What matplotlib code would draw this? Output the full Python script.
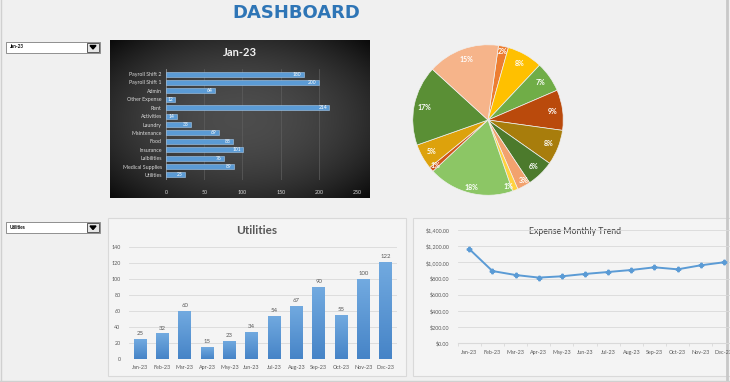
import numpy as np
import matplotlib
matplotlib.use('Agg')
import matplotlib.pyplot as plt
from matplotlib.patches import Rectangle, Polygon
from matplotlib.colors import LinearSegmentedColormap

# data
categories = ['Utilities', 'Medical Supplies', 'Lalbilities', 'Insurance', 'Food', 'Maintenance', 'Laundry',
              'Activities', 'Rent', 'Other Expense', 'Admin', 'Payroll Shift 1', 'Payroll Shift 2']
jan_values = [25, 89, 76, 101, 88, 69, 33, 14, 214, 12, 64, 200, 180]
months = ['Jan-23', 'Feb-23', 'Mar-23', 'Apr-23', 'May-23', 'Jun-23',
          'Jul-23', 'Aug-23', 'Sep-23', 'Oct-23', 'Nov-23', 'Dec-23']
utilities = [25, 32, 60, 15, 23, 34, 54, 67, 90, 55, 100, 122]
monthly_total = [1165, 893, 844, 812, 828, 857, 881, 906, 939, 914, 964, 1001]
trend_ticks = [0, 200, 400, 600, 800, 1000, 1200, 1400]
pie_colors = ['#ED7D31', '#FFC000', '#70AD47', '#BA4A0C', '#A87D0C', '#4C7A2C', '#F2A26E',
              '#FFD23F', '#8CC665', '#D0561A', '#DDA20C', '#5A8F35', '#F6B48A']

W, H = 730, 382
plt.rcParams['font.family'] = ['Lato', 'DejaVu Sans']


def rect(x0, y0, x1, y1):
    return [x0 / W, 1 - y1 / H, (x1 - x0) / W, (y1 - y0) / H]


fig = plt.figure(figsize=(W / 100, H / 100), dpi=100, facecolor='#F0F0F0')

# background layer in pixel coords
bg = fig.add_axes([0, 0, 1, 1])
bg.set_xlim(0, W)
bg.set_ylim(H, 0)
bg.axis('off')

bg.text(296, 13, 'DASHBOARD', ha='center', va='center', fontsize=13, fontweight='bold',
        color='#2E75B6', family='DejaVu Sans')

# dark panel with radial gradient
yy, xx = np.mgrid[-1:1:160j, -1:1:260j]
rr = np.sqrt(xx ** 2 + yy ** 2)
shade = 0.30 - 0.13 * np.clip(rr, 0, 1.4) ** 2
bg.imshow(np.dstack([shade] * 3), extent=[110, 370, 198, 40], aspect='auto', zorder=1)
bg.add_patch(Rectangle((108, 218), 298, 158, facecolor='#F4F4F4', edgecolor='#D9D9D9', lw=0.8, zorder=1))
bg.add_patch(Rectangle((413, 218), 330, 158, facecolor='#F4F4F4', edgecolor='#D9D9D9', lw=0.8, zorder=1))
bg.plot([727, 727], [0, H], color='#C8C8C8', lw=2, zorder=2)
bg.plot([0, W], [380.5, 380.5], color='#D0D0D0', lw=1, zorder=2)
bg.plot([0.5, 0.5], [0, H], color='#D0D0D0', lw=1, zorder=2)
bg.set_xlim(0, W)
bg.set_ylim(H, 0)


def dropdown(y0, label):
    bg.add_patch(Rectangle((6, y0), 94, 11, facecolor='white', edgecolor='#7F7F7F', lw=0.6, zorder=3))
    bg.add_patch(Rectangle((87, y0 + 1), 12, 9, facecolor='#E6E6E6', edgecolor='#404040', lw=0.6, zorder=3))
    bg.add_patch(Polygon([[90, y0 + 4], [96, y0 + 4], [93, y0 + 7.5]], closed=True, color='black', zorder=4))
    bg.text(10, y0 + 5.5, label, fontsize=3.3, fontweight='bold', va='center', color='black', zorder=4)


dropdown(41.5, 'Jan-23')
dropdown(222, 'Utilities')

# Jan-23 horizontal bar chart
bg.text(240, 53, 'Jan-23', ha='center', va='center', fontsize=8, fontweight='bold', color='#F2F2F2', zorder=3)
ax1 = fig.add_axes(rect(166, 69, 357, 180))
ax1.patch.set_alpha(0)
y = np.arange(len(categories))
bars = ax1.barh(y, jan_values, height=0.6, color='#5B9BD5', edgecolor='#A9CBEB', lw=0.4, zorder=3)
for b, v in zip(bars, jan_values):
    ax1.text(v - 3, b.get_y() + b.get_height() / 2, str(v), ha='right', va='center',
             fontsize=3.6, color='white', zorder=4)
ax1.set_xlim(0, 250)
ax1.set_ylim(-0.6, len(categories) - 0.4)
ax1.set_xticks(range(0, 251, 50))
ax1.set_yticks(y)
ax1.set_yticklabels(categories)
ax1.tick_params(axis='both', length=0, labelsize=3.8, colors='#D9D9D9', pad=3)
ax1.tick_params(axis='x', pad=7)
ax1.grid(axis='x', color='#5E5E5E', lw=0.5, zorder=0)
for s in ax1.spines.values():
    s.set_visible(False)
ax1.axvline(0, color='#8C8C8C', lw=0.6, zorder=2)

# pie
ax2 = fig.add_axes(rect(412, 44, 564, 196))
wedges, _, autotexts = ax2.pie(jan_values, colors=pie_colors, startangle=82, counterclock=False,
                               autopct='%1.0f%%', pctdistance=0.86,
                               wedgeprops=dict(edgecolor='#F0F0F0', linewidth=0.5),
                               textprops=dict(fontsize=5, color='white', fontweight='bold'))
total = sum(jan_values)
nudge = {'Activities': -4, 'Laundry': 2}
for w, t, v, c in zip(wedges, autotexts, jan_values, categories):
    ang = np.deg2rad((w.theta1 + w.theta2) / 2 + nudge.get(c, 0))
    d = 0.86
    if v / total < 0.04 or v / total > 0.18:
        d = 0.93
    t.set_position((d * np.cos(ang), d * np.sin(ang)))
ax2.set_xlim(-1.01, 1.01)
ax2.set_ylim(-1.01, 1.01)
ax2.set_aspect('equal')

# Utilities monthly bars
bg.text(257, 231, 'Utilities', ha='center', va='center', fontsize=8.5, fontweight='bold', color='#595959', zorder=3)
ax3 = fig.add_axes(rect(128.8, 247.3, 396.9, 359))
ax3.patch.set_alpha(0)
x = np.arange(len(months))
ub = ax3.bar(x, utilities, width=0.57, color='#5B9BD5', zorder=3)
cmap = LinearSegmentedColormap.from_list('blu', ['#4684C7', '#72AAE0'])
grad = np.linspace(0, 1, 100).reshape(-1, 1)
for b, v in zip(ub, utilities):
    im = ax3.imshow(grad, extent=[b.get_x(), b.get_x() + b.get_width(), 0, v], origin='lower',
                    aspect='auto', cmap=cmap, zorder=3.5)
    im.set_clip_path(b)
    ax3.text(b.get_x() + b.get_width() / 2, v + 3.5, str(v), ha='center', va='bottom',
             fontsize=4.3, color='#595959', zorder=4)
ax3.set_xlim(-0.5, len(months) - 0.5)
ax3.set_ylim(0, 140)
ax3.set_yticks(range(0, 141, 20))
ax3.set_xticks(x)
ax3.set_xticklabels(months)
ax3.tick_params(axis='both', length=0, labelsize=3.9, colors='#595959')
ax3.tick_params(axis='y', pad=6)
ax3.tick_params(axis='x', pad=4)
ax3.grid(axis='y', color='#D9D9D9', lw=0.6, zorder=0)
for s in ax3.spines.values():
    s.set_visible(False)

# expense trend line
bg.text(575, 231, 'Expense Monthly Trend', ha='center', va='center', fontsize=6.3, color='#404040', zorder=3)
ax4 = fig.add_axes(rect(457.7, 230, 735.5, 343.3))
ax4.patch.set_alpha(0)
ax4.plot(x, monthly_total, color='#5B9BD5', lw=1.4, marker='P', markersize=3.2, zorder=3)
ax4.set_xlim(-0.5, len(months) - 0.5)
ax4.set_ylim(0, 1400)
ax4.set_yticks(trend_ticks)
ax4.set_yticklabels(['${:,.2f}'.format(t) for t in trend_ticks])
ax4.set_xticks(x)
ax4.set_xticklabels(months)
ax4.set_xticks(np.arange(-0.5, len(months), 1), minor=True)
ax4.tick_params(axis='both', which='major', length=0, labelsize=3.9, colors='#595959')
ax4.tick_params(axis='x', which='minor', length=2.5, color='#D9D9D9')
ax4.tick_params(axis='y', pad=6)
ax4.tick_params(axis='x', pad=5)
ax4.grid(axis='y', color='#D9D9D9', lw=0.6, zorder=0)
for s in ['top', 'right', 'left']:
    ax4.spines[s].set_visible(False)
ax4.spines['bottom'].set_color('#D9D9D9')

fig.savefig('out.png', dpi=100, facecolor=fig.get_facecolor())
